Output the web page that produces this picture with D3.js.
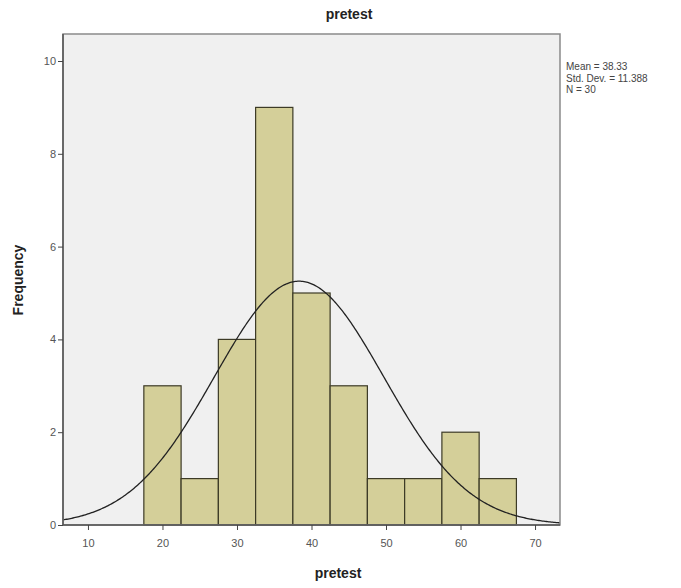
<!DOCTYPE html>
<html><head><meta charset="utf-8">
<script src="https://cdn.jsdelivr.net/npm/d3@7"></script>
<style>body{margin:0;background:#fff;}svg{display:block;font-family:Arial,"Liberation Sans",sans-serif;}</style>
</head><body>
<svg id="c" width="681" height="588"></svg>
<script>
const binStarts = [17.5,22.5,27.5,32.5,37.5,42.5,47.5,52.5,57.5,62.5];
const binWidth = 5;
const frequencies = [3,1,4,9,5,3,1,1,2,1];
const xTicks = [10,20,30,40,50,60,70];
const yTicks = [0,2,4,6,8,10];
const stats = {mean:38.33, sd:11.388, n:30};
const legendLines = ["Mean = 38.33","Std. Dev. = 11.388","N = 30"];

const svg = d3.select("#c");
const L=63, T=34, R=560, B=525;
const x = d3.scaleLinear().domain([6.65,73.35]).range([L,R]);
const y = d3.scaleLinear().domain([0,10]).range([B,61]);

svg.append("rect").attr("x",L).attr("y",T).attr("width",R-L).attr("height",B-T).attr("fill","#f0f0f0");

svg.append("g").selectAll("rect").data(binStarts).join("rect")
 .attr("x",(d)=>x(d)).attr("width",(d)=>x(d+binWidth)-x(d))
 .attr("y",(d,i)=>y(frequencies[i])).attr("height",(d,i)=>y(0)-y(frequencies[i]))
 .attr("fill","#d4cf99").attr("stroke","#3c3a26").attr("stroke-width",1.2);

// normal curve
const pts = d3.range(0,401).map(i=>{const xv=6.65+(73.35-6.65)*i/400;
 const z=(xv-stats.mean)/stats.sd;
 return [xv, stats.n*binWidth/(stats.sd*Math.sqrt(2*Math.PI))*Math.exp(-0.5*z*z)];});
svg.append("path").attr("d",d3.line().x(d=>x(d[0])).y(d=>y(d[1]))(pts))
 .attr("fill","none").attr("stroke","#222").attr("stroke-width",1.3);

// frame
svg.append("rect").attr("x",L).attr("y",T).attr("width",R-L).attr("height",B-T).attr("fill","none").attr("stroke","#8a8a8a").attr("stroke-width",1.5);
svg.append("line").attr("x1",L).attr("x2",L).attr("y1",T).attr("y2",B).attr("stroke","#555").attr("stroke-width",1.5);
svg.append("line").attr("x1",L).attr("x2",R).attr("y1",B).attr("y2",B).attr("stroke","#555").attr("stroke-width",1.5);

// axes
const xa = svg.append("g").attr("transform",`translate(0,${B})`).call(d3.axisBottom(x).tickValues(xTicks).tickSize(5).tickSizeOuter(0));
xa.select(".domain").remove();
xa.selectAll("line").attr("stroke","#444");
xa.selectAll("text").attr("font-size",11).attr("fill","#555").attr("dy","1.3em");
const ya = svg.append("g").attr("transform",`translate(${L},0)`).call(d3.axisLeft(y).tickValues(yTicks).tickSize(5).tickSizeOuter(0));
ya.select(".domain").remove();
ya.selectAll("line").attr("stroke","#444");
ya.selectAll("text").attr("font-size",11).attr("fill","#555").attr("dx","0.1em");

svg.append("text").attr("x",349).attr("y",19).attr("text-anchor","middle").attr("font-weight","bold").attr("font-size",14).attr("fill","#222").text("pretest");
svg.append("text").attr("x",338).attr("y",578).attr("text-anchor","middle").attr("font-weight","bold").attr("font-size",14).attr("fill","#222").text("pretest");
svg.append("text").attr("transform","translate(23,280) rotate(-90)").attr("text-anchor","middle").attr("font-weight","bold").attr("font-size",14).attr("fill","#222").text("Frequency");

svg.append("g").selectAll("text").data(legendLines).join("text")
 .attr("x",566).attr("y",(d,i)=>70+i*11.5).attr("font-size",10).attr("fill","#444").text(d=>d);
</script>
</body></html>
